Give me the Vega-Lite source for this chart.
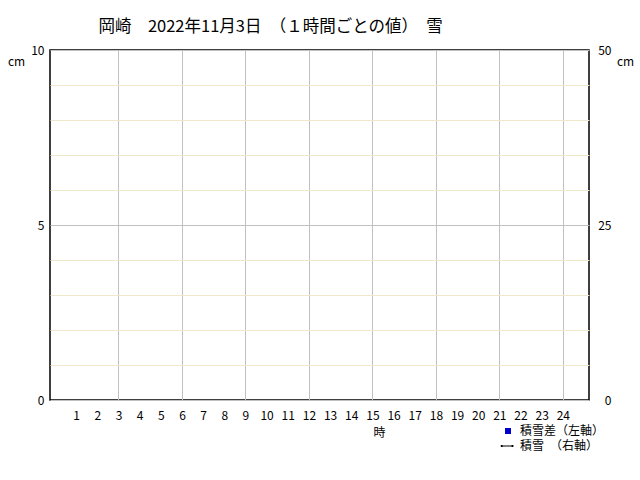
{
  "$schema": "https://vega.github.io/schema/vega-lite/v6.json",
  "width": 539,
  "height": 350,
  "autosize": "none",
  "padding": {"left": 50, "top": 50, "right": 51, "bottom": 80},
  "background": "white",
  "title": {
    "text": "岡崎　2022年11月3日　（１時間ごとの値）　雪",
    "anchor": "start",
    "dx": 91,
    "offset": 9,
    "fontSize": 16.5,
    "fontWeight": "normal",
    "font": "Noto Sans CJK JP",
    "color": "black"
  },
  "data": {
    "values": [
      {"時": 1, "積雪差": null, "積雪": null},
      {"時": 2, "積雪差": null, "積雪": null},
      {"時": 3, "積雪差": null, "積雪": null},
      {"時": 4, "積雪差": null, "積雪": null},
      {"時": 5, "積雪差": null, "積雪": null},
      {"時": 6, "積雪差": null, "積雪": null},
      {"時": 7, "積雪差": null, "積雪": null},
      {"時": 8, "積雪差": null, "積雪": null},
      {"時": 9, "積雪差": null, "積雪": null},
      {"時": 10, "積雪差": null, "積雪": null},
      {"時": 11, "積雪差": null, "積雪": null},
      {"時": 12, "積雪差": null, "積雪": null},
      {"時": 13, "積雪差": null, "積雪": null},
      {"時": 14, "積雪差": null, "積雪": null},
      {"時": 15, "積雪差": null, "積雪": null},
      {"時": 16, "積雪差": null, "積雪": null},
      {"時": 17, "積雪差": null, "積雪": null},
      {"時": 18, "積雪差": null, "積雪": null},
      {"時": 19, "積雪差": null, "積雪": null},
      {"時": 20, "積雪差": null, "積雪": null},
      {"時": 21, "積雪差": null, "積雪": null},
      {"時": 22, "積雪差": null, "積雪": null},
      {"時": 23, "積雪差": null, "積雪": null},
      {"時": 24, "積雪差": null, "積雪": null}
    ]
  },
  "encoding": {
    "x": {
      "field": "時",
      "type": "quantitative",
      "scale": {"domain": [0, 25], "nice": false, "zero": false},
      "axis": {
        "values": [1, 2, 3, 4, 5, 6, 7, 8, 9, 10, 11, 12, 13, 14, 15, 16, 17, 18, 19, 20, 21, 22, 23, 24],
        "title": "時",
        "titleX": 329,
        "titleY": 32,
        "titleAlign": "center",
        "titleBaseline": "middle",
        "titleFontWeight": "normal",
        "titleFontSize": 12,
        "labelPadding": 10,
        "labelFlush": false,
        "labelOverlap": false,
        "ticks": false,
        "domain": false,
        "grid": true,
        "gridColor": {"condition": {"test": "datum.value % 3 === 0", "value": "#c0c0c0"}, "value": "transparent"}
      }
    }
  },
  "layer": [
    {
      "mark": {"type": "bar", "color": "#0000cc"},
      "encoding": {
        "y": {
          "field": "積雪差",
          "type": "quantitative",
          "scale": {"domain": [0, 10], "nice": false},
          "axis": {
            "values": [0, 1, 2, 3, 4, 5, 6, 7, 8, 9, 10],
            "labelExpr": "datum.value % 5 === 0 ? datum.label : ''",
            "title": "cm",
            "titleAngle": 0,
            "titleX": -34,
            "titleY": 11,
            "titleAlign": "center",
            "titleBaseline": "middle",
            "titleFontWeight": "normal",
            "titleFontSize": 12,
            "labelPadding": 6,
            "ticks": false,
            "domain": false,
            "grid": true,
            "gridColor": {"condition": {"test": "datum.value % 5 === 0", "value": "#c0c0c0"}, "value": "#efe8cc"}
          }
        }
      }
    },
    {
      "mark": {"type": "line", "color": "black", "point": true},
      "encoding": {
        "y": {
          "field": "積雪",
          "type": "quantitative",
          "scale": {"domain": [0, 50], "nice": false},
          "axis": {
            "orient": "right",
            "values": [0, 25, 50],
            "title": "cm",
            "titleAngle": 0,
            "titleX": 36,
            "titleY": 11,
            "titleAlign": "center",
            "titleBaseline": "middle",
            "titleFontWeight": "normal",
            "titleFontSize": 12,
            "labelAlign": "right",
            "labelPadding": 22,
            "ticks": false,
            "domain": false,
            "grid": false
          }
        }
      }
    },
    {
      "data": {
        "values": [
          {"系列": "積雪差（左軸）", "時": null},
          {"系列": "積雪　（右軸）", "時": null}
        ]
      },
      "mark": {"type": "point", "filled": true, "opacity": 1},
      "encoding": {
        "color": {
          "field": "系列",
          "type": "nominal",
          "scale": {"domain": ["積雪差（左軸）", "積雪　（右軸）"], "range": ["#0000cc", "black"]},
          "legend": {
            "orient": "none",
            "legendX": 452,
            "legendY": 375,
            "title": null,
            "labelFontSize": 12,
            "labelOffset": 6,
            "rowPadding": 3,
            "symbolSize": 36
          }
        },
        "shape": {
          "field": "系列",
          "type": "nominal",
          "scale": {
            "domain": ["積雪差（左軸）", "積雪　（右軸）"],
            "range": ["square", "M-2.4,-0.17H1.8V0.17H-2.4Z M-2.4,-0.35H-1.8V0.35H-2.4Z M1.2,-0.35H1.8V0.35H1.2Z"]
          }
        }
      }
    }
  ],
  "resolve": {"scale": {"y": "independent"}},
  "config": {
    "font": "Noto Sans CJK JP",
    "view": {"stroke": "black", "strokeWidth": 1.5},
    "axis": {"labelFontSize": 12, "labelColor": "black", "titleColor": "black", "gridWidth": 1},
    "legend": {"labelColor": "black"}
  }
}
